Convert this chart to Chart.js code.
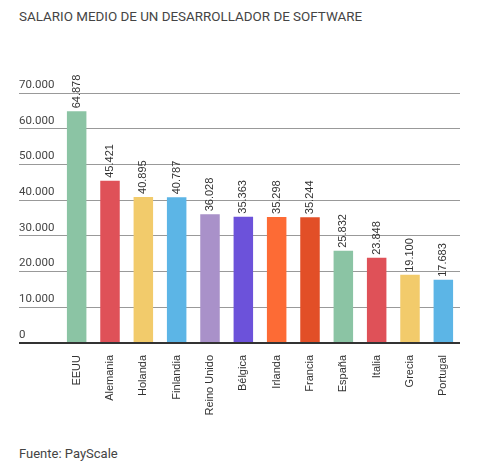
<!DOCTYPE html>
<html>
<head>
<meta charset="utf-8">
<script src="https://cdn.jsdelivr.net/npm/chart.js@4/dist/chart.umd.min.js"></script>
<style>
  html, body { margin: 0; padding: 0; background: #fff; }
  #wrap { position: relative; width: 480px; height: 472px; }
  #title { position: absolute; left: 19px; top: 9px; font: 13.4px Roboto, sans-serif; color: #444; }
  #source { position: absolute; left: 19px; top: 446px; font: 13px Roboto, sans-serif; color: #444; }
  #box { position: absolute; left: 0; top: 40px; width: 480px; height: 390px; }
</style>
</head>
<body>
<div id="wrap">
  <div id="title">SALARIO MEDIO DE UN DESARROLLADOR DE SOFTWARE</div>
  <div id="box"><canvas id="chart"></canvas></div>
  <div id="source">Fuente: PayScale</div>
</div>
<script>
const countries = ['EEUU', 'Alemania', 'Holanda', 'Finlandia', 'Reino Unido', 'Bélgica',
                   'Irlanda', 'Francia', 'España', 'Italia', 'Grecia', 'Portugal'];
const salaries = [64878, 45421, 40895, 40787, 36028, 35363, 35298, 35244, 25832, 23848, 19100, 17683];
const barColors = ['#8bc4a4', '#df5158', '#f2cb6b', '#5cb5e6', '#a991c9', '#6c52da',
                   '#fd6b35', '#e24f27', '#8bc4a4', '#df5158', '#f2cb6b', '#5cb5e6'];
const yTicks = [0, 10000, 20000, 30000, 40000, 50000, 60000, 70000];

const fmt = v => String(v).replace(/\B(?=(\d{3})+(?!\d))/g, '.');

// rotated value labels above the bars
const valueLabels = {
  id: 'valueLabels',
  afterDatasetsDraw(chart) {
    const ctx = chart.ctx;
    const meta = chart.getDatasetMeta(0);
    ctx.save();
    ctx.font = '11px "Liberation Sans", Arial, sans-serif';
    ctx.fillStyle = '#333';
    ctx.textAlign = 'left';
    ctx.textBaseline = 'middle';
    meta.data.forEach((bar, i) => {
      ctx.save();
      ctx.translate(bar.x, bar.y - 3);
      ctx.rotate(-Math.PI / 2);
      ctx.fillText(fmt(salaries[i]), 0, 0);
      ctx.restore();
    });
    ctx.restore();
  }
};

new Chart(document.getElementById('chart'), {
  type: 'bar',
  data: {
    labels: countries,
    datasets: [{
      data: salaries,
      backgroundColor: barColors,
      barPercentage: 0.585,
      categoryPercentage: 1
    }]
  },
  options: {
    responsive: true,
    maintainAspectRatio: false,
    animation: false,
    layout: { padding: { left: 19, right: 20, top: 53, bottom: 0 } },
    plugins: {
      legend: { display: false },
      tooltip: { enabled: false }
    },
    scales: {
      x: {
        afterFit(scale) { scale.height = 87; },
        grid: { display: false },
        border: { display: false },
        ticks: {
          minRotation: 90, maxRotation: 90, autoSkip: false,
          padding: 4,
          color: '#333',
          font: { family: '"Liberation Sans", Arial, sans-serif', size: 11 }
        }
      },
      y: {
        min: 0, max: 70000,
        afterFit(scale) { scale.width = 41; },
        afterBuildTicks(scale) { scale.ticks = yTicks.map(v => ({ value: v })); },
        border: { display: false },
        grid: {
          tickLength: 41,
          color: c => c.tick && c.tick.value === 0 ? '#333' : '#999',
          lineWidth: c => c.tick && c.tick.value === 0 ? 2 : 1
        },
        ticks: {
          crossAlign: 'far',
          padding: 0,
          labelOffset: -8,
          color: '#444',
          font: { family: 'Roboto, sans-serif', size: 11.5 },
          callback: v => fmt(v)
        }
      }
    }
  },
  plugins: [valueLabels]
});
</script>
</body>
</html>
